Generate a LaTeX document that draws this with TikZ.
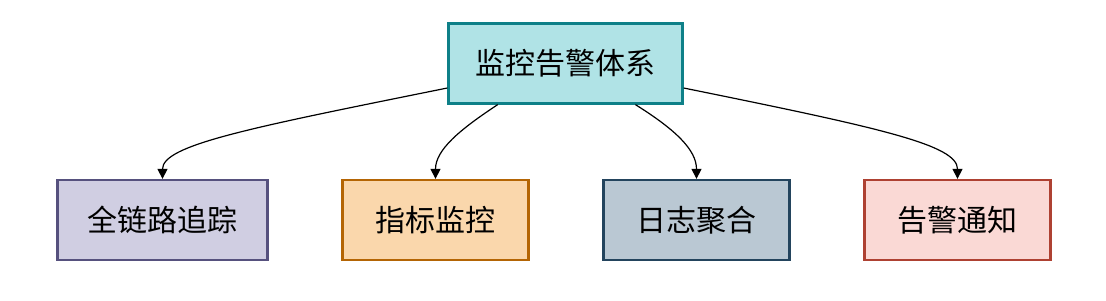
\documentclass[tikz,border=0pt]{standalone}
\usepackage{fontspec}
\setmainfont{Noto Sans CJK SC}
\usetikzlibrary{arrows.meta,calc}
\definecolor{topfill}{HTML}{B0E3E6}\definecolor{topline}{HTML}{0E8088}
\definecolor{pfill}{HTML}{D0CEE2}\definecolor{pline}{HTML}{56517E}
\definecolor{ofill}{HTML}{FAD7AC}\definecolor{oline}{HTML}{B46504}
\definecolor{bfill}{HTML}{BAC8D3}\definecolor{bline}{HTML}{23445D}
\definecolor{rfill}{HTML}{FAD9D5}\definecolor{rline}{HTML}{AE4132}
\tikzset{
  box/.style={draw, line width=2.3pt, minimum height=80pt, inner sep=0pt, font=\fontsize{30}{34}\selectfont},
  conn/.style={line width=1.2pt, -{Triangle[length=10pt,width=10pt]}}
}
\begin{document}
\begin{tikzpicture}[x=1pt,y=-1pt]
\useasboundingbox (0,0) rectangle (1106,300);
\node[box, fill=topfill, draw=topline, minimum width=234pt] (top) at (565.5,63.5) {监控告警体系};
\node[box, fill=pfill, draw=pline, minimum width=210pt] (a) at (162.5,220) {全链路追踪};
\node[box, fill=ofill, draw=oline, minimum width=186pt] (b) at (435.5,220) {指标监控};
\node[box, fill=bfill, draw=bline, minimum width=186pt] (c) at (696.5,220) {日志聚合};
\node[box, fill=rfill, draw=rline, minimum width=186pt] (d) at (957.5,220) {告警通知};
\draw[conn] ([yshift=-24.5pt]top.west) .. controls +(-198,40) and +(0,-34) .. (a.north);
\draw[conn] ($(top.south west)!0.213!(top.south east)$) .. controls +(-38,25) and +(0,-29) .. (b.north);
\draw[conn] ($(top.south west)!0.796!(top.south east)$) .. controls +(40,25) and +(0,-29) .. (c.north);
\draw[conn] ([yshift=-24.5pt]top.east) .. controls +(197,40) and +(0,-34) .. (d.north);
\end{tikzpicture}
\end{document}
